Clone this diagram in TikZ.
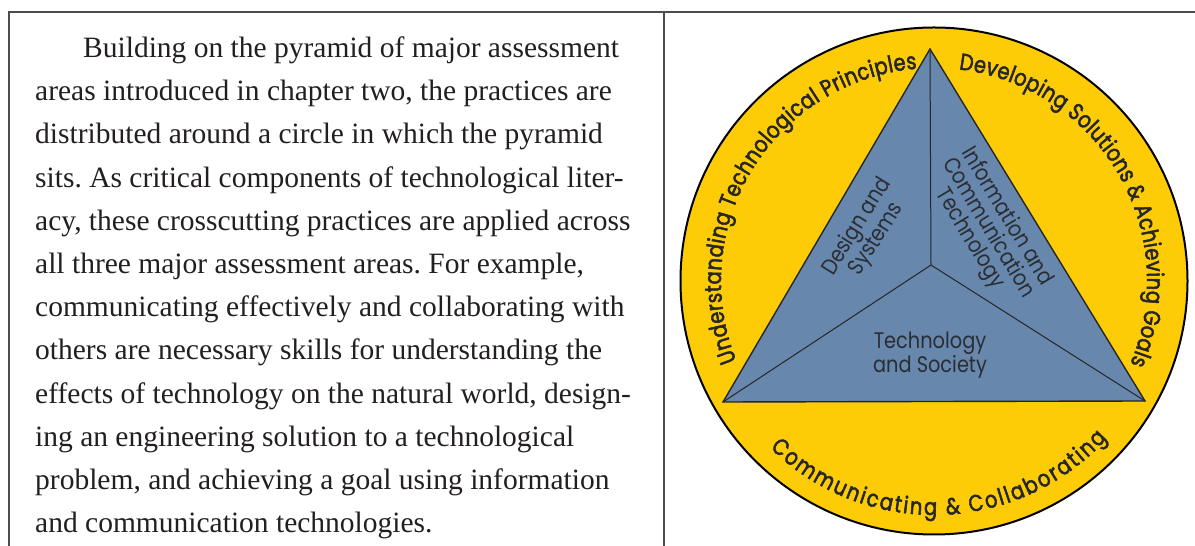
\documentclass[tikz,border=0pt]{standalone}
\usepackage{fontspec}
\setmainfont{Liberation Serif}
\newfontfamily\labfont{Poppins}[FakeStretch=0.86]
\newfontfamily\ringfont{Poppins}[FakeStretch=0.84,BoldFont=Poppins,BoldFeatures={FakeBold=2.2}]
\usetikzlibrary{decorations.text}
\definecolor{ringyellow}{HTML}{FECC07}
\definecolor{triblue}{HTML}{6787AD}
\definecolor{framegray}{HTML}{4D4D4D}
\definecolor{edgeink}{HTML}{262626}
\definecolor{labelink}{HTML}{2A2D33}
\definecolor{bodyink}{HTML}{231F20}
\frenchspacing
\begin{document}
\begin{tikzpicture}[x=1pt,y=1pt,
  framerule/.style={draw=framegray,line width=1.3pt},
  bodyline/.style={anchor=base west,inner sep=0pt,text=bodyink,font=\fontsize{29.5}{35}\selectfont},
  ringdisc/.style={circle,draw=black,fill=ringyellow,line width=2pt,minimum size=507pt,inner sep=0pt},
  tristyle/.style={draw=edgeink,fill=triblue,line width=1.4pt,line join=miter},
  spoke/.style={draw=edgeink,line width=1pt},
  trilabel/.style={align=center,inner sep=0pt,text=labelink,font=\labfont\fontsize{22.5}{21.5}\selectfont}
]
\useasboundingbox (0,0) rectangle (1195,546);
\fill[white] (0,0) rectangle (1195,546);

% frame
\coordinate (fbl) at (9,0);
\coordinate (ftl) at (9,534);
\coordinate (ftr) at (1195,534);
\coordinate (mtop) at (664,534);
\coordinate (mbot) at (664,0);
\draw[framerule] (fbl) -- (ftl) -- (ftr);
\draw[framerule] (mtop) -- (mbot);

% body text
\node[bodyline] (l1) at (83,488.5) {Building on the pyramid of major assessment};
\node[bodyline] (l2) at (35,445.3) {areas introduced in chapter two, the practices are};
\node[bodyline] (l3) at (35,402.1) {distributed around a circle in which the pyramid};
\node[bodyline] (l4) at (35,358.9) {sits. As critical components of technological liter-};
\node[bodyline] (l5) at (35,315.7) {acy, these crosscutting practices are applied across};
\node[bodyline] (l6) at (35,272.5) {all three major assessment areas. For example,};
\node[bodyline] (l7) at (35,229.3) {communicating effectively and collaborating with};
\node[bodyline] (l8) at (35,186.1) {others are necessary skills for understanding the};
\node[bodyline] (l9) at (35,142.9) {effects of technology on the natural world, design-};
\node[bodyline] (l10) at (35,99.7) {ing an engineering solution to a technological};
\node[bodyline] (l11) at (35,56.5) {problem, and achieving a goal using information};
\node[bodyline] (l12) at (35,13.3) {and communication technologies.};

% circle
\node[ringdisc] (ring) at (934,265) {};

% triangle
\coordinate (apex) at (930,497);
\coordinate (bl) at (723,144);
\coordinate (br) at (1145,145);
\coordinate (mid) at (931,281);
\draw[tristyle] (apex) -- (br) -- (bl) -- cycle;
\draw[spoke] (mid) -- (apex);
\draw[spoke] (mid) -- (bl);
\draw[spoke] (mid) -- (br);

% triangle labels
\node[trilabel,rotate=58] (ds) at (867,313) {Design and\\Systems};
\node[trilabel,rotate=-59] (ict) at (988,318) {Information and\\Communication\\Technology};
\node[trilabel] (ts) at (930,191) {Technology\\and Society};

% ring texts
\path[decorate,decoration={text along path,text align={fit to path},text color=edgeink,
  text={|\ringfont\bfseries\fontsize{23.2}{27}\selectfont|Understanding Technological Principles}}]
  (ring.center) ++(202:213) arc[start angle=202,end angle=94.6,radius=213];
\path[decorate,decoration={text along path,text align={fit to path},text color=edgeink,
  text={|\ringfont\bfseries\fontsize{23.2}{27}\selectfont|Developing Solutions {\&} Achieving Goals}}]
  (ring.center) ++(83.3:213) arc[start angle=83.3,end angle=-22.9,radius=213];
\path[decorate,decoration={text along path,text align={fit to path},text color=edgeink,
  text={|\ringfont\bfseries\fontsize{23.2}{27}\selectfont|Communicating {\&} Collaborating}}]
  (ring.center) ++(225.5:234) arc[start angle=225.5,end angle=317.7,radius=234];
\end{tikzpicture}
\end{document}
